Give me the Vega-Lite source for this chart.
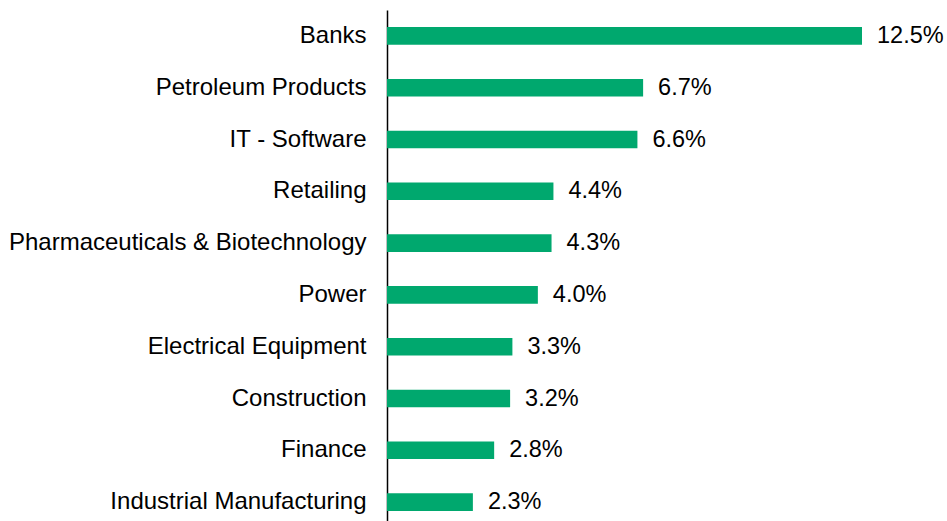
{
  "$schema": "https://vega.github.io/schema/vega-lite/v6.json",
  "autosize": {"type": "none"},
  "width": 475,
  "height": 511,
  "padding": {"left": 387, "top": 10, "right": 85, "bottom": 0},
  "background": "white",
  "config": {"view": {"stroke": null}, "font": "Liberation Sans"},
  "data": {"values": [
    {"sector": "Banks", "value": 0.125},
    {"sector": "Petroleum Products", "value": 0.0674},
    {"sector": "IT - Software", "value": 0.0659},
    {"sector": "Retailing", "value": 0.0438},
    {"sector": "Pharmaceuticals & Biotechnology", "value": 0.0433},
    {"sector": "Power", "value": 0.0397},
    {"sector": "Electrical Equipment", "value": 0.0330},
    {"sector": "Construction", "value": 0.0324},
    {"sector": "Finance", "value": 0.0282},
    {"sector": "Industrial Manufacturing", "value": 0.0226}
  ]},
  "encoding": {
    "y": {"field": "sector", "type": "nominal", "sort": null,
      "scale": {"range": [0, 518], "paddingInner": 0.66, "paddingOuter": 0.33},
      "axis": {"title": null, "ticks": false, "grid": false, "domainColor": "black", "domainWidth": 1.5,
        "labelFont": "Liberation Sans", "labelFontSize": 24, "labelColor": "black", "labelPadding": 21, "labelLimit": 0}},
    "x": {"field": "value", "type": "quantitative", "scale": {"domain": [0, 0.125], "nice": false}, "axis": null}
  },
  "layer": [
    {"mark": {"type": "bar", "color": "#00A86E"}},
    {"mark": {"type": "text", "align": "left", "dx": 15, "fontSize": 23.5, "font": "Liberation Sans", "color": "black"},
     "encoding": {"text": {"field": "value", "type": "quantitative", "format": ".1%"}}}
  ]
}
